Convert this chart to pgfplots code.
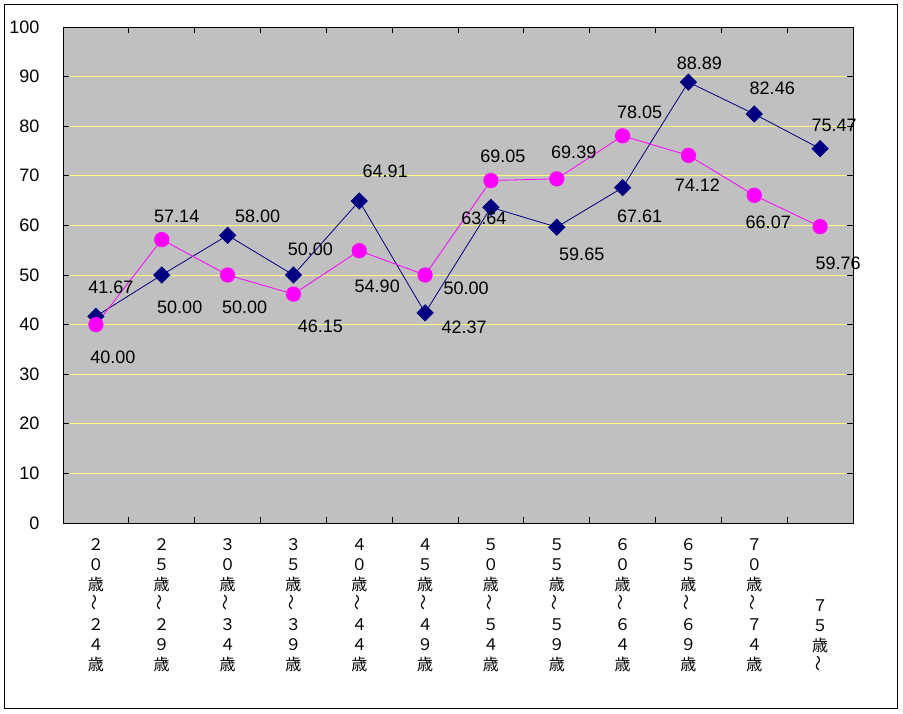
\documentclass[border=0pt]{standalone}
\usepackage{fontspec}
\setmainfont{Liberation Sans}
\newfontfamily\jp{Noto Sans CJK JP}
\usepackage{graphicx}
\usepackage{pgfplots}
\usepackage{pgfplotstable}
\pgfplotsset{compat=1.18}

\definecolor{plotbg}{RGB}{192,192,192}
\definecolor{gridyel}{RGB}{255,255,128}
\definecolor{navyser}{RGB}{0,0,128}
\definecolor{magser}{RGB}{255,0,255}

% x, value, label offset (pt), label
\pgfplotstableread{
x y dx dy lbl
0 41.67 15 29 41.67
1 50.00 18 -32 50.00
2 58.00 30 19 58.00
3 50.00 17 26 50.00
4 64.91 26 30 64.91
5 42.37 39 -14 42.37
6 63.64 -7 -11 63.64
7 59.65 25 -27 59.65
8 67.61 17 -29 67.61
9 88.89 11 19 88.89
10 82.46 18 26 82.46
11 75.47 14 23 75.47
}\navydata

\pgfplotstableread{
x y dx dy lbl
0 40.00 17 -33 40.00
1 57.14 15 23 57.14
2 50.00 17 -32 50.00
3 46.15 27 -32 46.15
4 54.90 18 -36 54.90
5 50.00 41 -13 50.00
6 69.05 12 24 69.05
7 69.39 17 27 69.39
8 78.05 17 24 78.05
9 74.12 9 -30 74.12
10 66.07 14 -27 66.07
11 59.76 18 -37 59.76
}\magdata

\newcommand{\wv}{\rotatebox{90}{～}}

\begin{document}
\begin{tikzpicture}
\useasboundingbox (-63pt,-190pt) rectangle (840pt,523pt);
\fill[white] (-63pt,-190pt) rectangle (840pt,523pt);
\draw[black, line width=1pt] (-58pt,-185pt) rectangle (834pt,518pt);
\begin{axis}[
  at={(0pt,0pt)}, anchor=south west,
  scale only axis,
  width=790pt, height=496pt,
  xmin=-0.5, xmax=11.5,
  ymin=0, ymax=100,
  axis background/.style={fill=plotbg},
  axis line style={black, line width=0.8pt},
  ytick={0,10,...,100},
  ymajorgrids,
  grid style={gridyel, line width=0.8pt},
  tick align=inside,
  major tick length=6pt,
  minor tick length=6pt,
  tick style={black, line width=0.8pt},
  xtick={0,...,11},
  minor xtick={-0.5,0.5,...,11.5},
  major x tick style={draw=none},
  y tick label style={font=\fontsize{18}{20}\selectfont, xshift=-20pt},
  /pgf/number format/assume math mode=true,
  xticklabels={
    {２\\０\\歳\\\wv\\２\\４\\歳},
    {２\\５\\歳\\\wv\\２\\９\\歳},
    {３\\０\\歳\\\wv\\３\\４\\歳},
    {３\\５\\歳\\\wv\\３\\９\\歳},
    {４\\０\\歳\\\wv\\４\\４\\歳},
    {４\\５\\歳\\\wv\\４\\９\\歳},
    {５\\０\\歳\\\wv\\５\\４\\歳},
    {５\\５\\歳\\\wv\\５\\９\\歳},
    {６\\０\\歳\\\wv\\６\\４\\歳},
    {６\\５\\歳\\\wv\\６\\９\\歳},
    {７\\０\\歳\\\wv\\７\\４\\歳},
    {７\\５\\歳\\\wv}},
  x tick label style={font=\jp\fontsize{16}{20}\selectfont, align=center,
    anchor=south, inner sep=0pt, yshift=-149pt},
  clip=false,
  lbl/.style={draw=none, mark=none, nodes near coords,
    point meta=explicit symbolic,
    every node near coord/.style={font=\fontsize{18}{20}\selectfont,
      black, anchor=center, inner sep=0pt}},
]
\addplot[navyser, line width=0.8pt, mark=square*, mark size=5.7pt,
  mark options={fill=navyser, draw=navyser, rotate=45}]
  table[x=x, y=y] {\navydata};
\addplot[magser, line width=0.8pt, mark=*, mark size=7.2pt,
  mark options={fill=magser, draw=magser}]
  table[x=x, y=y] {\magdata};
% data labels: offsets given in pt, turned into axis units (65.83pt per category, 4.96pt per unit)
\addplot[lbl] table[x expr=\thisrow{x}+\thisrow{dx}/65.833,
  y expr=\thisrow{y}+\thisrow{dy}/4.96, meta=lbl] {\navydata};
\addplot[lbl] table[x expr=\thisrow{x}+\thisrow{dx}/65.833,
  y expr=\thisrow{y}+\thisrow{dy}/4.96, meta=lbl] {\magdata};
\end{axis}
\end{tikzpicture}
\end{document}
